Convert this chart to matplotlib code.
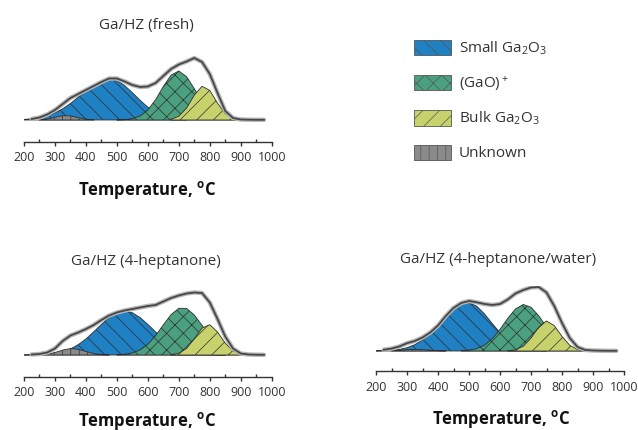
import matplotlib
matplotlib.use("Agg")
import matplotlib.pyplot as plt
from matplotlib.patches import Patch
from matplotlib.ticker import MultipleLocator
import numpy as np

plt.rcParams['font.family'] = ['Open Sans', 'DejaVu Sans']
plt.rcParams['mathtext.fontset'] = 'custom'
plt.rcParams['mathtext.rm'] = 'Open Sans'
plt.rcParams['mathtext.it'] = 'Open Sans'
plt.rcParams['mathtext.bf'] = 'Open Sans:bold'
plt.rcParams['hatch.linewidth'] = 0.5

# temperature grid (C), 25 C steps
temps = np.arange(200, 1001, 25)

# --- Ga/HZ (fresh) ---
fresh_small = [0.6, 1.2, 2.3, 4.2, 7.1, 11.2, 16.5, 22.8, 29.3, 35.1, 39.2, 40.5, 39.5, 34.5,
               27.3, 19.7, 12.8, 7.6, 4.1, 2.0, 0.9, 0.3, 0, 0, 0, 0, 0, 0, 0, 0, 0, 0, 0]
fresh_gao = [0, 0, 0, 0, 0, 0, 0, 0, 0, 0, 0, 0, 0.07, 0.35, 1.3, 4.0, 10.0, 20.3, 33.5, 44.9,
             49.0, 43.4, 31.3, 18.4, 8.8, 3.4, 1.1, 0.3, 0.07, 0, 0, 0, 0]
fresh_bulk = [0, 0, 0, 0, 0, 0, 0, 0, 0, 0, 0, 0, 0, 0, 0, 0, 0, 0, 0, 0.7, 3.7, 11.9, 24.9,
              33.7, 29.6, 16.9, 6.2, 1.5, 0.2, 0, 0, 0, 0]
fresh_unknown = [0, 0, 0.2, 1.0, 2.7, 4.3, 4.1, 2.3, 0.8, 0.2, 0, 0, 0, 0, 0, 0, 0, 0, 0, 0,
                 0, 0, 0, 0, 0, 0, 0, 0, 0, 0, 0, 0, 0]
fresh_total = [np.nan, 1.0, 2.5, 5.5, 10, 16, 22, 26, 30, 34, 38, 41.5, 41.5, 38.5, 35, 33,
               33.5, 37, 44, 51, 55.5, 58.5, 62, 58, 46, 27, 9, 2, 0.5, 0.3, 0.2, 0.2, np.nan]

# --- Ga/HZ (4-heptanone) ---
hep_small = [0.05, 0.13, 0.33, 0.78, 1.7, 3.3, 6.1, 10.3, 16.0, 23.1, 30.6, 37.4, 42.3, 44,
             42.3, 37.4, 30.6, 23.1, 16.0, 10.3, 6.1, 3.3, 1.7, 0.78, 0.33, 0.13, 0.05,
             0, 0, 0, 0, 0, 0]
hep_gao = [0, 0, 0, 0, 0, 0, 0, 0, 0, 0, 0, 0, 0.23, 0.76, 2.1, 5.1, 10.8, 19.4, 30.1, 40.4,
           46.7, 46.6, 40.0, 29.7, 19.0, 10.5, 5.0, 2.0, 0.7, 0.2, 0, 0, 0]
hep_bulk = [0, 0, 0, 0, 0, 0, 0, 0, 0, 0, 0, 0, 0, 0, 0, 0, 0, 0, 0, 0.34, 1.8, 6.6, 16.2,
            26.9, 30.3, 23.0, 11.9, 4.1, 1.0, 0.2, 0, 0, 0]
hep_unknown = [0, 0, 0.2, 0.9, 2.5, 4.9, 6.45, 5.7, 3.5, 1.4, 0.4, 0.1, 0, 0, 0, 0, 0, 0, 0,
               0, 0, 0, 0, 0, 0, 0, 0, 0, 0, 0, 0, 0, 0]
hep_total = [np.nan, 0.5, 1, 2.5, 6.5, 14, 19.5, 22.5, 26, 30, 35, 39.5, 42.5, 44.5, 46, 47.5,
             49, 50, 53.5, 57, 59.5, 61.5, 62.5, 62, 52.5, 36, 18.5, 6.5, 1.5, 0.5, 0.3, 0.2,
             np.nan]

# --- Ga/HZ (4-heptanone/water) ---
wat_small = [0.1, 0.28, 0.69, 1.57, 3.3, 6.3, 10.9, 17.5, 25.6, 34.3, 42.0, 47.1, 48.4, 44.8,
             37.1, 27.5, 18.2, 10.8, 5.7, 2.7, 1.2, 0.44, 0.15, 0, 0, 0, 0, 0, 0, 0, 0, 0, 0]
wat_gao = [0, 0, 0, 0, 0, 0, 0, 0, 0, 0, 0, 0.26, 0.86, 2.4, 5.9, 12.2, 21.6, 32.6, 42.1,
           46.5, 43.8, 35.2, 24.2, 14.2, 7.1, 3.1, 1.1, 0.35, 0.1, 0, 0, 0, 0]
wat_bulk = [0, 0, 0, 0, 0, 0, 0, 0, 0, 0, 0, 0, 0, 0, 0, 0, 0, 0.2, 1.2, 4.7, 12.9, 23.9,
            30, 25.4, 14.6, 5.7, 1.5, 0.26, 0, 0, 0, 0, 0]
wat_unknown = [0, 0, 0.3, 0.8, 1.3, 1.5, 1.3, 0.8, 0.3, 0.1, 0, 0, 0, 0, 0, 0, 0, 0, 0, 0,
               0, 0, 0, 0, 0, 0, 0, 0, 0, 0, 0, 0, 0]
wat_total = [np.nan, 1.2, 2.4, 4.5, 7.8, 10, 13.5, 18.5, 25.5, 35, 43, 48, 50, 48.7, 47, 46,
             47, 51.5, 57.5, 61, 63.5, 64, 58.5, 45, 28, 13, 4, 1, 0.5, 0.3, 0.2, 0.2, np.nan]

titles = ['Ga/HZ (fresh)', 'Ga/HZ (4-heptanone)', 'Ga/HZ (4-heptanone/water)']
labels = ['Small Ga$_2$O$_3$', '(GaO)$^+$', 'Bulk Ga$_2$O$_3$', 'Unknown']
colors = ['#1f80c3', '#4ba07f', '#c8d26c', '#8a8a8a']
hatches = ['\\\\', 'xx', '//', '||']

W, H = 638, 430
fig = plt.figure(figsize=(W / 100, H / 100), dpi=100)


def px_axes(x0, x1, y_spine, y_top):
    return fig.add_axes([x0 / W, (H - y_spine) / H, (x1 - x0) / W, (y_spine - y_top) / H])


def draw_panel(ax, comps, total, ylo):
    for vals, c, h in zip(comps, colors, hatches):
        v = np.array(vals, dtype=float)
        ax.fill_between(temps, 0, v, where=v > 0, facecolor=c, edgecolor='#2e2e2e',
                        hatch=h, linewidth=0.6)
    ax.plot(temps, total, color='#b8b8b8', lw=3.2, solid_capstyle='round')
    ax.plot(temps, total, color='#474747', lw=1.3)
    ax.set_xlim(200, 1000)
    ax.set_ylim(ylo, 65)
    for s in ['top', 'right', 'left']:
        ax.spines[s].set_visible(False)
    ax.spines['bottom'].set_color('#333333')
    ax.spines['bottom'].set_linewidth(1.0)
    ax.set_yticks([])
    ax.xaxis.set_major_locator(MultipleLocator(100))
    ax.xaxis.set_minor_locator(MultipleLocator(50))
    ax.tick_params(axis='x', which='major', direction='out', length=3, width=1,
                   color='#333333', labelsize=9, labelcolor='#333333', pad=4)
    ax.tick_params(axis='x', which='minor', direction='in', length=2, width=1,
                   color='#333333')
    ax.patch.set_alpha(0)


ax1 = px_axes(24, 271.7, 141.7, 55)
draw_panel(ax1, [fresh_small, fresh_gao, fresh_bulk, fresh_unknown], fresh_total, -21.7)
ax2 = px_axes(24, 271.7, 376.7, 290)
draw_panel(ax2, [hep_small, hep_gao, hep_bulk, hep_unknown], hep_total, -21.7)
ax3 = px_axes(376, 624, 371, 286)
draw_panel(ax3, [wat_small, wat_gao, wat_bulk, wat_unknown], wat_total, -20)

# titles and axis labels
for (x, y), t in zip([(146, 29.3), (146, 265), (498, 262.7)], titles):
    fig.text(x / W, 1 - y / H, t, ha='center', va='baseline', fontsize=11, color='#333333')
xlab = r'Temperature, $\mathbf{^o}$C'
for x, y in [(147.5, 195), (147.5, 425.5), (501, 424.3)]:
    fig.text(x / W, 1 - y / H, xlab, ha='center', va='baseline', fontsize=12,
             fontweight='bold', color='#111111')

handles = [Patch(facecolor=c, edgecolor='#555555', hatch=h, linewidth=0.6, label=l)
           for c, h, l in zip(colors, hatches, labels)]
fig.legend(handles=handles, loc='upper left', bbox_to_anchor=(414 / W, 1 - 39.5 / H),
           frameon=False, fontsize=11, handlelength=2.42, handleheight=1.18,
           labelspacing=1.12, handletextpad=0.52, borderpad=0, borderaxespad=0,
           labelcolor='#333333')

fig.savefig('out.png', dpi=100)
